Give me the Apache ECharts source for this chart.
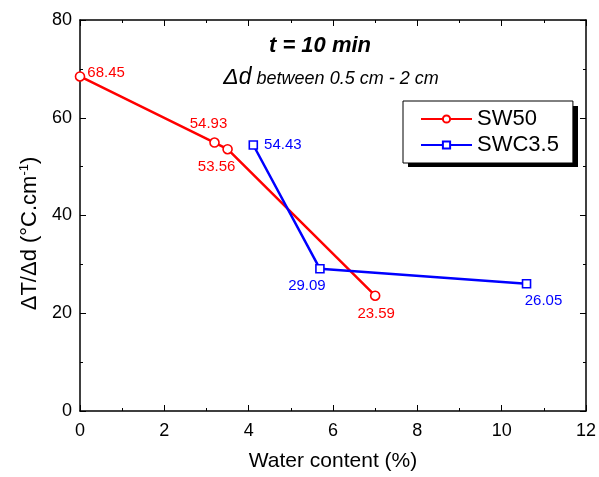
<!DOCTYPE html>
<html>
<head>
<meta charset="utf-8">
<script src="https://cdn.jsdelivr.net/npm/echarts@6/dist/echarts.min.js"></script>
<style>
  html, body { margin: 0; padding: 0; background: #fff; }
  #chart-container { width: 599px; height: 477px; }
</style>
</head>
<body>
<div id="chart-container"></div>
<script>
// data
var sw50X = [0, 3.19, 3.5, 7.0];
var sw50Y = [68.45, 54.93, 53.56, 23.59];
var swcX = [4.11, 5.69, 10.59];
var swcY = [54.43, 29.09, 26.05];
var seriesNames = ['SW50', 'SWC3.5'];

// label placement per point
var sw50Labels = [
  { position: 'right', distance: 2, offset: [0, -4] },
  { position: 'top', distance: 6, offset: [-6, 0] },
  { position: 'bottom', distance: 5, offset: [-11, 0] },
  { position: 'bottom', distance: 5, offset: [1, 0] }
];
var swcLabels = [
  { position: 'right', distance: 6, offset: [0, 0] },
  { position: 'bottom', distance: 5, offset: [-13, 0] },
  { position: 'bottom', distance: 5, offset: [17, 0] }
];

var font = 'Liberation Sans, Arial, sans-serif';

function makeData(xs, ys, labels) {
  return xs.map(function (x, i) {
    return { value: [x, ys[i]], label: labels[i] };
  });
}

var dom = document.getElementById('chart-container');
var myChart = echarts.init(dom, null, { renderer: 'canvas' });

var baseAxis = {
  axisLine: { show: true, onZero: false, lineStyle: { color: '#000', width: 1.5 } },
  axisTick: { show: true, inside: true, length: 6, lineStyle: { color: '#000', width: 1 } },
  minorTick: { show: true, splitNumber: 2, length: 3, lineStyle: { color: '#000' } },
  splitLine: { show: false }
};

var option = {
  animation: false,
  backgroundColor: '#fff',
  title: [
    {
      text: 't = 10 min',
      left: 315, top: 30,
      textAlign: 'center',
      textStyle: { fontFamily: font, fontSize: 22, fontWeight: 'bold', fontStyle: 'italic', color: '#000' }
    },
    {
      text: '{a|\u0394d}{b| between 0.5 cm - 2 cm}',
      left: 326, top: 61,
      textAlign: 'center',
      textStyle: {
        fontWeight: 'normal',
        rich: {
          a: { fontFamily: font, fontSize: 23, fontStyle: 'italic', fontWeight: 'normal', color: '#000' },
          b: { fontFamily: font, fontSize: 18, fontStyle: 'italic', fontWeight: 'normal', color: '#000', padding: [3, 0, 0, 0] }
        }
      }
    }
  ],
  // legend drop shadow
  graphic: [
    { type: 'rect', left: 408, top: 106, z: 0, shape: { width: 170, height: 61 }, style: { fill: '#000' } }
  ],
  legend: {
    orient: 'vertical',
    left: 403, top: 101,
    data: seriesNames,
    itemWidth: 51,
    itemHeight: 9,
    itemGap: 4,
    padding: [7, 14, 7, 17],
    backgroundColor: '#fff',
    borderColor: '#000',
    borderWidth: 1,
    borderRadius: 0,
    z: 10,
    textStyle: { fontFamily: font, fontSize: 22, color: '#000' }
  },
  grid: { left: 80, right: 11, top: 20, bottom: 65 },
  xAxis: [
    Object.assign({}, baseAxis, {
      type: 'value', min: 0, max: 12, interval: 2,
      name: 'Water content (%)',
      nameLocation: 'middle', nameGap: 40,
      nameTextStyle: { fontFamily: font, fontSize: 21, color: '#000' },
      axisLabel: { margin: 11, fontFamily: font, fontSize: 18, color: '#000' }
    }),
    Object.assign({}, baseAxis, {
      type: 'value', min: 0, max: 12, interval: 2, position: 'top',
      axisLabel: { show: false }
    })
  ],
  yAxis: [
    Object.assign({}, baseAxis, {
      type: 'value', min: 0, max: 80, interval: 20,
      name: '{m|\u0394T/\u0394d (\u00b0C.cm}{s|-1}{m|)}',
      nameLocation: 'middle', nameGap: 36, nameRotate: 90,
      nameTextStyle: {
        padding: [0, 36, 0, 0],
        rich: {
          m: { fontFamily: font, fontSize: 22, color: '#000' },
          s: { fontFamily: font, fontSize: 13, color: '#000', verticalAlign: 'top', padding: [0, 0, 12, 0] }
        }
      },
      axisLabel: { margin: 8, fontFamily: font, fontSize: 18, color: '#000' }
    }),
    Object.assign({}, baseAxis, {
      type: 'value', min: 0, max: 80, interval: 20, position: 'right',
      axisLabel: { show: false }
    })
  ],
  series: [
    {
      name: seriesNames[0],
      type: 'line',
      data: makeData(sw50X, sw50Y, sw50Labels),
      symbol: 'circle',
      symbolSize: 9,
      showAllSymbol: true,
      lineStyle: { color: '#ff0000', width: 2.5 },
      itemStyle: { color: '#fff', borderColor: '#ff0000', borderWidth: 1.6 },
      label: {
        show: true,
        fontFamily: font, fontSize: 15, color: '#ff0000',
        formatter: function (p) { return p.value[1].toFixed(2); }
      }
    },
    {
      name: seriesNames[1],
      type: 'line',
      data: makeData(swcX, swcY, swcLabels),
      symbol: 'rect',
      symbolSize: 8,
      showAllSymbol: true,
      lineStyle: { color: '#0000ff', width: 2.5 },
      itemStyle: { color: '#fff', borderColor: '#0000ff', borderWidth: 1.6 },
      label: {
        show: true,
        fontFamily: font, fontSize: 15, color: '#0000ff',
        formatter: function (p) { return p.value[1].toFixed(2); }
      }
    }
  ]
};

myChart.setOption(option);
window.addEventListener('resize', myChart.resize);
</script>
</body>
</html>
